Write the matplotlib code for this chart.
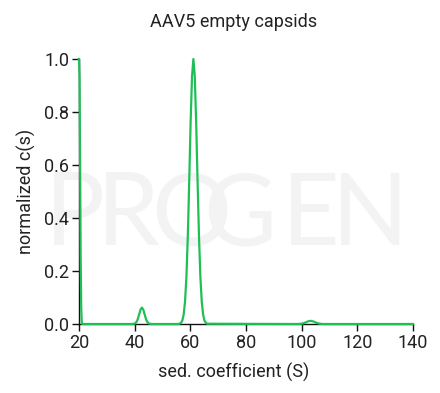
import matplotlib
matplotlib.use("Agg")
import matplotlib.pyplot as plt

plt.rcParams['font.family'] = ['Roboto', 'DejaVu Sans']

title = "AAV5 empty capsids"
xlabel = "sed. coefficient (S)"
ylabel = "normalized c(s)"
xticks = [20, 40, 60, 80, 100, 120, 140]
yticks = [0.0, 0.2, 0.4, 0.6, 0.8, 1.0]
watermark_letters = ["P", "R", "O", "G", "E", "N"]

# sedimentation coefficient (S) and normalized c(s)
sed = [20.0, 20.2, 20.4, 20.6, 20.8, 21.0, 21.2,
       39.0, 39.6, 40.1, 40.6, 41.1, 41.6, 42.1, 42.6, 43.1, 43.6, 44.1, 44.6, 45.1, 45.6, 46.2,
       55.6, 56.1, 56.6, 57.1, 57.6, 58.1, 58.6, 59.1, 59.6, 60.1, 60.6, 61.1,
       61.6, 62.1, 62.6, 63.1, 63.6, 64.1, 64.6, 65.1, 65.6, 66.1,
       97.2, 98.2, 99.2, 100.2, 101.2, 102.2, 103.2, 104.2, 105.2, 106.2, 107.2, 108.2, 109.2,
       140.0]
cs = [1.0, 0.93, 0.60, 0.25, 0.06, 0.005, 0.0,
      0.0, 0.0007, 0.0019, 0.0068, 0.0178, 0.0356, 0.054, 0.062, 0.054, 0.0356, 0.0178, 0.0068, 0.0019, 0.0007, 0.0,
      0.0, 0.001, 0.0039, 0.0124, 0.035, 0.085, 0.180, 0.334, 0.539, 0.760, 0.934, 1.0,
      0.934, 0.760, 0.539, 0.334, 0.180, 0.085, 0.035, 0.0124, 0.0039, 0.001, 0.0,
      0.0, 0.0003, 0.0016, 0.0049, 0.0096, 0.012, 0.0096, 0.0049, 0.0016, 0.0003, 0.0, 0.0,
      0.0]

W, H = 440, 393
fig = plt.figure(figsize=(4.4, 3.93), dpi=100)
ax = fig.add_axes([79/W, 1-324/H, (413-79)/W, (324-59)/H])
ax.set_zorder(1)

# watermark logo (light grey letters, O and G overlapping), behind everything
wm_cx = [75, 128, 191, 240, 311, 370]
for letter, xp in zip(watermark_letters, wm_cx):
    fig.text(xp/W, 1-245/H, letter, fontsize=72, color='#f3f3f3',
             family=['Lato', 'DejaVu Sans'], ha='center', va='baseline', zorder=-5)

ax.set_facecolor('none')
ax.plot(sed, cs, color='#1fbf56', lw=1.6, clip_on=False, zorder=3)

ax.set_xlim(20, 140)
ax.set_ylim(0, 1.0)
ax.set_xticks(xticks)
ax.set_yticks(yticks)
ax.set_yticklabels([f"{v:.1f}" for v in yticks])
for s in ['top', 'right']:
    ax.spines[s].set_visible(False)
for s in ['left', 'bottom']:
    ax.spines[s].set_color('#111111')
    ax.spines[s].set_linewidth(1.0)
ax.tick_params(direction='out', length=5, width=1, colors='#111111', labelsize=13,
               labelcolor='#222222', pad=2)
fig.text(234/W, 1-372/H, xlabel, fontsize=13, color='#222222', ha='center', va='center')
ax.set_ylabel(ylabel, fontsize=13, color='#222222', labelpad=6)
fig.text(234/W, 1-22/H, title, fontsize=13, color='#222222', ha='center', va='center')

fig.savefig("out.png", dpi=100)
